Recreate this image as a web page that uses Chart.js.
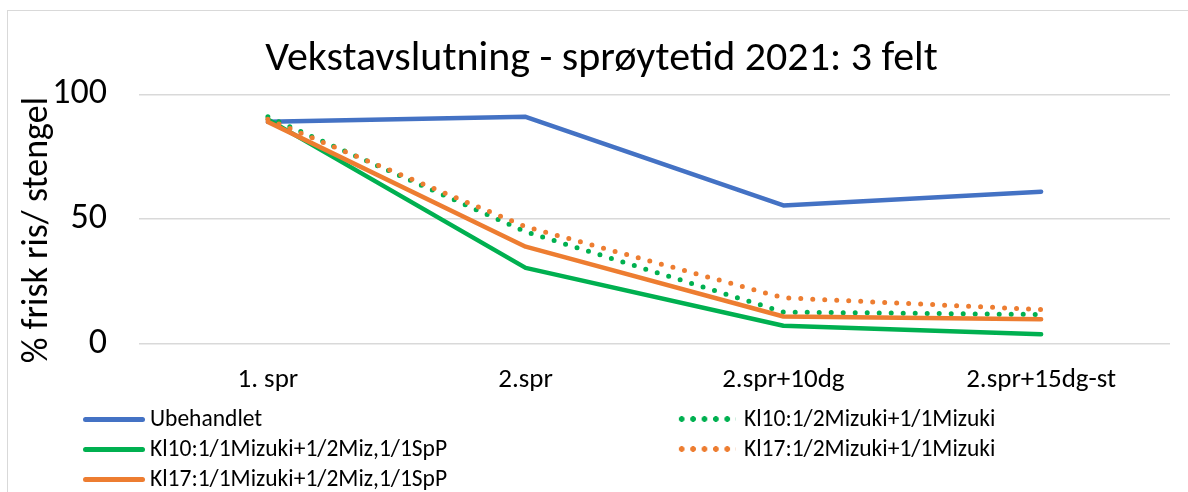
<!DOCTYPE html>
<html>
<head>
<meta charset="utf-8">
<script src="https://cdn.jsdelivr.net/npm/chart.js@4/dist/chart.umd.min.js"></script>
<style>
  html, body { margin: 0; padding: 0; background: #fff; overflow: hidden; }
  #wrap { position: relative; width: 1188px; height: 492px; overflow: hidden; }
  #frame { position: absolute; left: 7px; top: 10px; width: 1200px; height: 500px; border: 1.5px solid #d9d9d9; box-sizing: border-box; }
  canvas { position: absolute; left: 0; top: 0; }
  .leg { position: absolute; font-family: Carlito, "Open Sans", sans-serif; font-size: 23.5px; color: #000; white-space: nowrap; line-height: 26px; }
  .sw { position: absolute; height: 6px; }
</style>
</head>
<body>
<div id="wrap">
  <div id="frame"></div>
  <canvas id="c" width="1200" height="492"></canvas>
  <div id="legend"></div>
</div>
<script>
const categories = ["1. spr", "2.spr", "2.spr+10dg", "2.spr+15dg-st"];
const seriesNames = [
  "Ubehandlet",
  "Kl10:1/2Mizuki+1/1Mizuki",
  "Kl10:1/1Mizuki+1/2Miz,1/1SpP",
  "Kl17:1/2Mizuki+1/1Mizuki",
  "Kl17:1/1Mizuki+1/2Miz,1/1SpP"
];
const ubehandlet = [89, 91, 55.5, 61];
const kl10Half = [91, 45, 12.8, 11.8];
const kl10Full = [90, 30.5, 7.3, 3.9];
const kl17Half = [90, 47, 18.5, 13.8];
const kl17Full = [89, 39, 11, 9.9];
const yTicks = [0, 50, 100];
const yTitle = "% frisk ris/ stengel";

const blue = "#4472C4", green = "#00B050", orange = "#ED7D31";
const FONT = "Carlito, 'Open Sans', sans-serif";

const seriesData = [ubehandlet, kl10Half, kl10Full, kl17Half, kl17Full];
const colors = [blue, green, green, orange, orange];
const dotted = [false, true, false, true, false];

const datasets = seriesData.map((d, i) => ({
  label: seriesNames[i],
  data: d,
  borderColor: colors[i],
  backgroundColor: colors[i],
  borderWidth: dotted[i] ? 5 : 4.5,
  borderDash: dotted[i] ? [0, 12] : [],
  borderCapStyle: 'round',
  borderJoinStyle: 'round',
  pointRadius: 0,
  tension: 0,
  fill: false,
  order: 10 - i
}));

const yTitlePlugin = {
  id: 'yTitle',
  afterDraw(chart) {
    const ctx = chart.ctx;
    const area = chart.chartArea;
    ctx.save();
    ctx.translate(38, (area.top + area.bottom) / 2 + 11);
    ctx.rotate(-Math.PI / 2);
    ctx.font = "36px " + FONT;
    ctx.fillStyle = "#000";
    ctx.textAlign = "center";
    ctx.textBaseline = "middle";
    ctx.fillText(yTitle, 0, 0);
    ctx.restore();
  }
};

new Chart(document.getElementById('c'), {
  type: 'line',
  data: { labels: categories, datasets },
  plugins: [yTitlePlugin],
  options: {
    responsive: false,
    animation: false,
    layout: { padding: { left: 7, right: 4, top: 10, bottom: 98 } },
    plugins: {
      legend: { display: false },
      tooltip: { enabled: false },
      title: {
        display: true,
        text: "Vekstavslutning - sprøytetid 2021: 3 felt",
        color: "#000",
        font: { family: FONT, size: 42, weight: 'normal' },
        padding: { top: 24, bottom: 10 }
      }
    },
    scales: {
      x: {
        offset: true,
        grid: { display: false, drawTicks: false, offset: true },
        border: { display: false },
        ticks: { color: "#000", font: { family: FONT, size: 27 }, padding: 20, maxRotation: 0, autoSkip: false },
        afterFit: s => { s.height = 50; }
      },
      y: {
        min: 0, max: 100,
        afterBuildTicks: s => { s.ticks = yTicks.map(v => ({ value: v })); },
        grid: { color: "#d9d9d9", lineWidth: 1.5, drawTicks: false },
        border: { display: false },
        ticks: { color: "#000", font: { family: FONT, size: 36 }, padding: 32 },
        title: { display: false },
        afterFit: s => { s.width = 132; }
      },
      yRight: {
        position: 'right',
        display: true,
        min: 0, max: 100,
        grid: { display: false, drawTicks: false },
        border: { display: false },
        ticks: { display: false },
        afterFit: s => { s.width = 26; }
      }
    }
  }
});

// legend (two columns, Excel-style)
const legendPos = [
  { x: 83, y: 419 },  // Ubehandlet
  { x: 676, y: 419 }, // Kl10 half
  { x: 83, y: 449 },  // Kl10 full
  { x: 676, y: 449 }, // Kl17 half
  { x: 83, y: 479 }   // Kl17 full
];
const legendEl = document.getElementById('legend');
seriesNames.forEach((name, i) => {
  const p = legendPos[i];
  const sw = document.createElement('div');
  sw.className = 'sw';
  sw.style.left = p.x + 'px';
  sw.style.top = (p.y - 3) + 'px';
  if (dotted[i]) {
    sw.style.width = '60px';
    sw.style.background = `radial-gradient(circle, ${colors[i]} 2.6px, transparent 3.1px) 0 0 / 11.4px 6px repeat-x`;
  } else {
    sw.style.width = '62px';
    sw.style.height = '5px';
    sw.style.top = (p.y - 2.5) + 'px';
    sw.style.borderRadius = '3px';
    sw.style.background = colors[i];
  }
  legendEl.appendChild(sw);
  const t = document.createElement('div');
  t.className = 'leg';
  t.textContent = name;
  t.style.left = (p.x + (dotted[i] ? 68 : 67)) + 'px';
  t.style.top = (p.y - 14) + 'px';
  legendEl.appendChild(t);
});
</script>
</body>
</html>
